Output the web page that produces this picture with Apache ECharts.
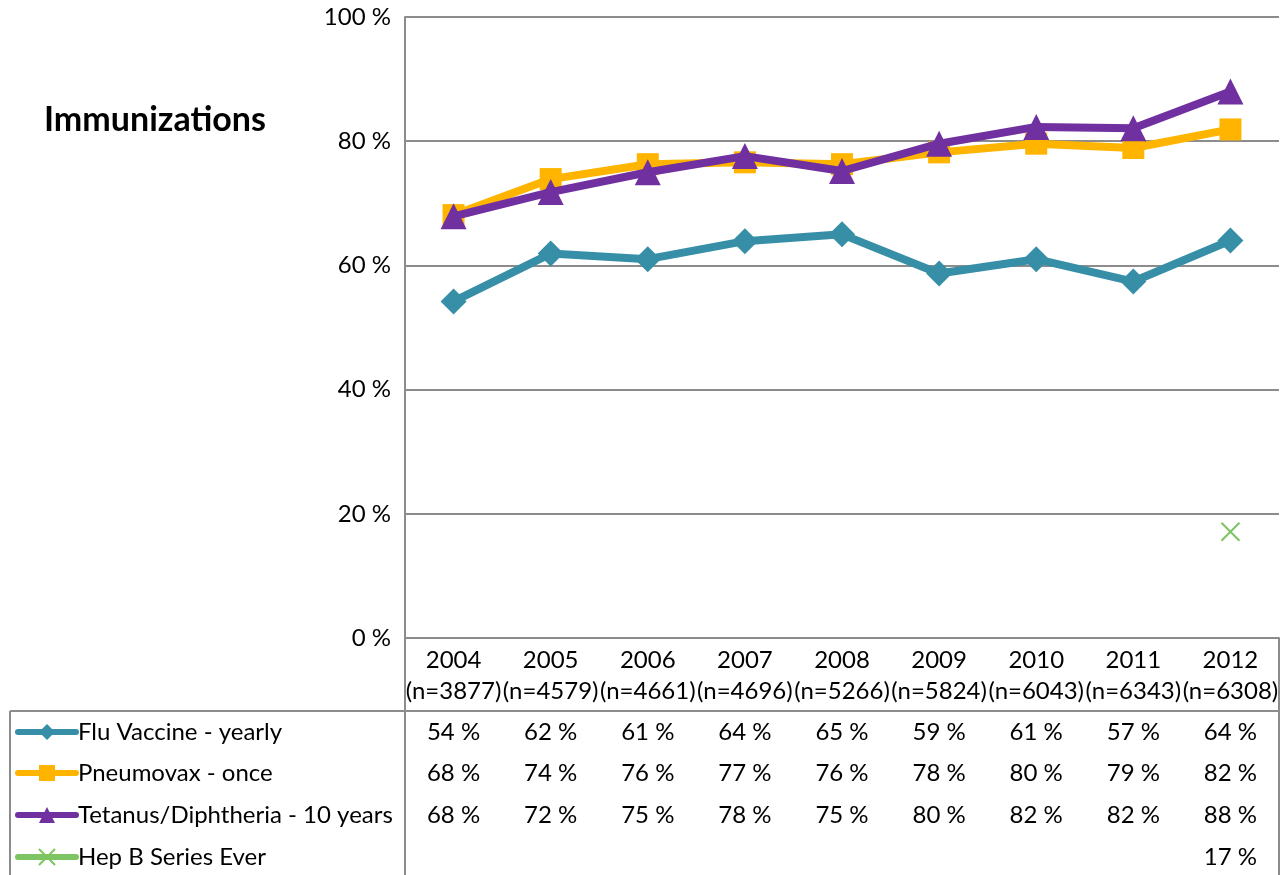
<!DOCTYPE html>
<html><head><meta charset="utf-8">
<script src="https://cdn.jsdelivr.net/npm/echarts@6/dist/echarts.min.js"></script>
<style>html,body{margin:0;padding:0;background:#fff}#c{width:1286px;height:875px}</style>
</head><body><div id="c"></div>
<script>
const years = ['2004','2005','2006','2007','2008','2009','2010','2011','2012'];
const counts = ['3877','4579','4661','4696','5266','5824','6043','6343','6308'];
const seriesNames = ['Flu Vaccine - yearly','Pneumovax - once','Tetanus/Diphtheria - 10 years','Hep B Series Ever'];
const flu = [54.2, 61.9, 61.0, 63.9, 65.0, 58.7, 61.0, 57.4, 64.0];
const pneumovax = [68.1, 73.9, 76.3, 76.6, 76.3, 78.2, 79.6, 78.9, 81.9];
const tetanus = [67.9, 71.8, 75.0, 77.6, 75.2, 79.6, 82.3, 82.1, 88.0];
const hepB = [null, null, null, null, null, null, null, null, 17.1];
const yTicks = [0, 20, 40, 60, 80, 100];

const FONT = 'Lato, "Open Sans", sans-serif';
const FS = 24;
const colors = ['#378FA7', '#FFB500', '#7030A0', '#7DC462'];
const allData = [flu, pneumovax, tetanus, hepB];
const symbols = ['diamond', 'rect', 'triangle', 'path://M0,0L10,10M10,0L0,10'];
const symSizes = [26, 22, 26, 18];

const gridTop = 17, gridBottomY = 638, gridLeft = 405, gridRight = 1279;
const rowY = [732, 773, 815, 857];

const chart = echarts.init(document.getElementById('c'), null, {renderer: 'canvas'});

const xAxes = [{
  type: 'category', data: years, boundaryGap: true, gridIndex: 0,
  axisLine: {show: true, lineStyle: {color: '#8c8c8c', width: 2}},
  axisTick: {show: false},
  axisLabel: {
    interval: 0, margin: 7, color: '#000', fontFamily: FONT, fontSize: FS, lineHeight: 31,
    formatter: (v, i) => v + '\n(n=' + counts[i] + ')'
  }
}];
allData.forEach((arr, r) => {
  xAxes.push({
    type: 'category', data: years, boundaryGap: true, gridIndex: 0, position: 'bottom',
    offset: rowY[r] - gridBottomY,
    axisLine: {show: false}, axisTick: {show: false}, splitLine: {show: false},
    axisLabel: {
      interval: 0, margin: 0, verticalAlign: 'middle', color: '#000', fontFamily: FONT, fontSize: FS,
      formatter: (v, i) => arr[i] == null ? '' : Math.round(arr[i]) + ' %'
    }
  });
});

const series = seriesNames.map((name, s) => ({
  name, type: 'line', data: allData[s], xAxisIndex: 0,
  symbol: symbols[s], symbolSize: symSizes[s], showAllSymbol: true,
  lineStyle: {color: colors[s], width: 8},
  itemStyle: s === 3 ? {color: 'transparent', borderColor: colors[s], borderWidth: 2} : {color: colors[s]},
  emphasis: {disabled: true},
  z: s === 2 ? 4 : 3,
  animation: false
}));

const legends = seriesNames.map((name, s) => ({
  data: [name], orient: 'horizontal', left: 15, top: rowY[s] - 12,
  itemWidth: 58, itemHeight: 20, itemGap: 0, padding: 0,
  lineStyle: {width: 6, cap: 'round'},
  textStyle: {fontFamily: FONT, fontSize: FS, color: '#000', lineHeight: 24, padding: [0, 0, 0, -3]},
  selectedMode: false
}));

const line = (x1, y1, x2, y2) => ({type: 'line', shape: {x1, y1, x2, y2}, style: {stroke: '#8c8c8c', lineWidth: 2}, z: 10, silent: true});

chart.setOption({
  animation: false,
  backgroundColor: '#fff',
  title: {text: 'Immunizations', left: 39, top: 98, textStyle: {fontFamily: FONT, fontSize: 34, fontWeight: 'bold', color: '#000'}},
  grid: {left: gridLeft, top: gridTop, right: 1286 - gridRight, bottom: 875 - gridBottomY, containLabel: false},
  legend: legends,
  xAxis: xAxes,
  yAxis: {
    type: 'value', min: 0, max: 100, interval: 20,
    axisLine: {show: true, lineStyle: {color: '#8c8c8c', width: 2}},
    axisTick: {show: false},
    splitLine: {show: true, lineStyle: {color: '#8c8c8c', width: 2}},
    axisLabel: {margin: 14, color: '#000', fontFamily: FONT, fontSize: FS, formatter: v => yTicks.includes(v) ? v + ' %' : ''}
  },
  series,
  graphic: [
    line(gridLeft, gridBottomY, gridLeft, 875),
    line(gridRight, gridBottomY, gridRight, 875),
    line(10, 711, gridRight, 711),
    line(10, 711, 10, 875)
  ]
});
</script></body></html>
